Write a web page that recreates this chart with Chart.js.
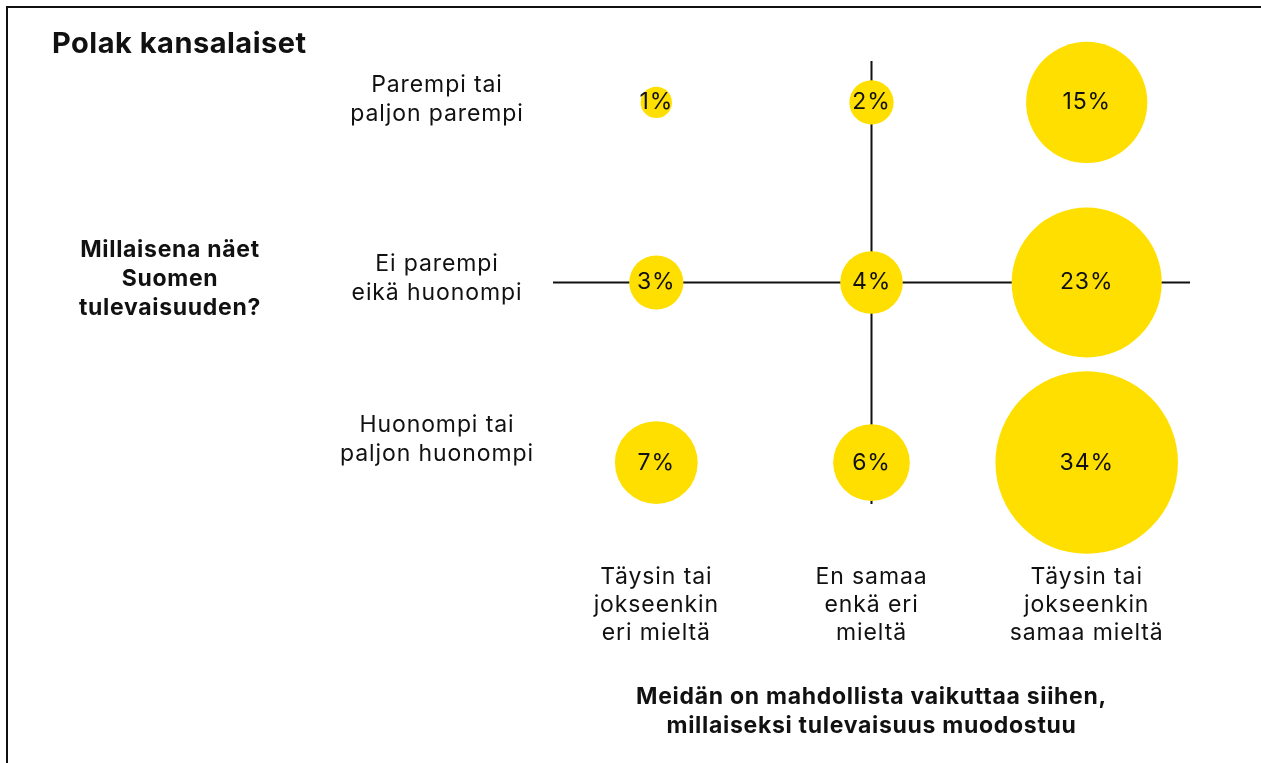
<!DOCTYPE html>
<html>
<head>
<meta charset="utf-8">
<script src="https://cdn.jsdelivr.net/npm/chart.js@4/dist/chart.umd.min.js"></script>
<style>
  body { margin: 0; background: #fff; }
  #wrap { position: relative; width: 1261px; height: 763px; }
  #frame { position: absolute; left: 6px; top: 6px; right: 0; bottom: 0;
           border-left: 2px solid #111; border-top: 2px solid #111; pointer-events: none; }
</style>
</head>
<body>
<div id="wrap">
  <canvas id="myChart"></canvas>
  <div id="frame"></div>
</div>
<script>
const bubbleChart = document.getElementById('myChart')

// labels
const title = 'Polak kansalaiset'
const columns = [['Täysin tai', 'jokseenkin', 'eri mieltä'], ['En samaa', 'enkä eri', 'mieltä'], ['Täysin tai', 'jokseenkin', 'samaa mieltä']]
const rows = [['Parempi tai', 'paljon parempi'], ['Ei parempi', 'eikä huonompi'], ['Huonompi tai', 'paljon huonompi']]
const yTitle = ['Millaisena näet', 'Suomen', 'tulevaisuuden?']
const xTitle = ['Meidän on mahdollista vaikuttaa siihen,', 'millaiseksi tulevaisuus muodostuu']

// percentages, one list per row (top to bottom), columns left to right
const parempi = [1, 2, 15]
const eiParempi = [3, 4, 23]
const huonompi = [7, 6, 34]

const yellow = '#FFDF00'
const font = 'Inter, "Noto Sans", sans-serif'

let points = []
;[parempi, eiParempi, huonompi].forEach((list, rowIdx) => {
  list.forEach((v, colIdx) => {
    points.push({ x: colIdx, y: 2 - rowIdx, r: 15.65 * Math.sqrt(v), v: v })
  })
})

// cross lines, labels and bubble texts
const decor = {
  id: 'decor',
  beforeDatasetsDraw(chart) {
    const { ctx, chartArea, scales } = chart
    ctx.save()
    ctx.strokeStyle = '#111'
    ctx.lineWidth = 2
    ctx.beginPath()
    const yMid = scales.y.getPixelForValue(1)
    const xMid = scales.x.getPixelForValue(1)
    ctx.moveTo(chartArea.left, yMid)
    ctx.lineTo(chartArea.right, yMid)
    ctx.moveTo(xMid, chartArea.top)
    ctx.lineTo(xMid, chartArea.bottom)
    ctx.stroke()
    ctx.restore()
  },
  afterDatasetsDraw(chart) {
    const { ctx, scales } = chart
    ctx.save()
    ctx.fillStyle = '#111'
    ctx.textBaseline = 'middle'

    // title
    ctx.textAlign = 'left'
    ctx.font = 'bold 29px ' + font
    ctx.letterSpacing = '0.5px'
    ctx.fillText(title, 52, 44)

    // values in the bubbles
    ctx.textAlign = 'center'
    ctx.font = '23px ' + font
    ctx.letterSpacing = '0.9px'
    const meta = chart.getDatasetMeta(0)
    meta.data.forEach((el, i) => {
      ctx.fillText(points[i].v + '%', el.x, el.y)
    })

    // row labels
    const rowShift = [-3, -4, -23]
    rows.forEach((lines, i) => {
      const yc = scales.y.getPixelForValue(2 - i) + rowShift[i]
      lines.forEach((t, j) => {
        ctx.fillText(t, 437, yc + (j - (lines.length - 1) / 2) * 29)
      })
    })

    // column labels
    columns.forEach((lines, i) => {
      const xc = scales.x.getPixelForValue(i)
      lines.forEach((t, j) => {
        ctx.fillText(t, xc, 577 + j * 28)
      })
    })

    // axis titles
    ctx.font = 'bold 23px ' + font
    ctx.letterSpacing = '0.7px'
    yTitle.forEach((t, j) => ctx.fillText(t, 170, 250 + j * 29))
    xTitle.forEach((t, j) => ctx.fillText(t, scales.x.getPixelForValue(1), 697 + j * 29))
    ctx.restore()
  }
}

const myChart = new Chart(bubbleChart, {
  type: 'bubble',
  data: {
    datasets: [{
      label: 'Polak kansalaiset',
      data: points,
      backgroundColor: yellow,
      borderWidth: 0,
      hoverRadius: 0,
      clip: false
    }]
  },
  options: {
    responsive: true,
    maintainAspectRatio: false,
    animation: false,
    layout: {
      autoPadding: false,
      padding: { left: 553, right: 71, top: 61, bottom: 259 }
    },
    plugins: {
      legend: { display: false },
      tooltip: { enabled: false }
    },
    scales: {
      x: { type: 'linear', min: -0.48, max: 2.48, display: false },
      y: { type: 'linear', min: -0.23, max: 2.23, display: false }
    }
  },
  plugins: [decor]
})
</script>
</body>
</html>
